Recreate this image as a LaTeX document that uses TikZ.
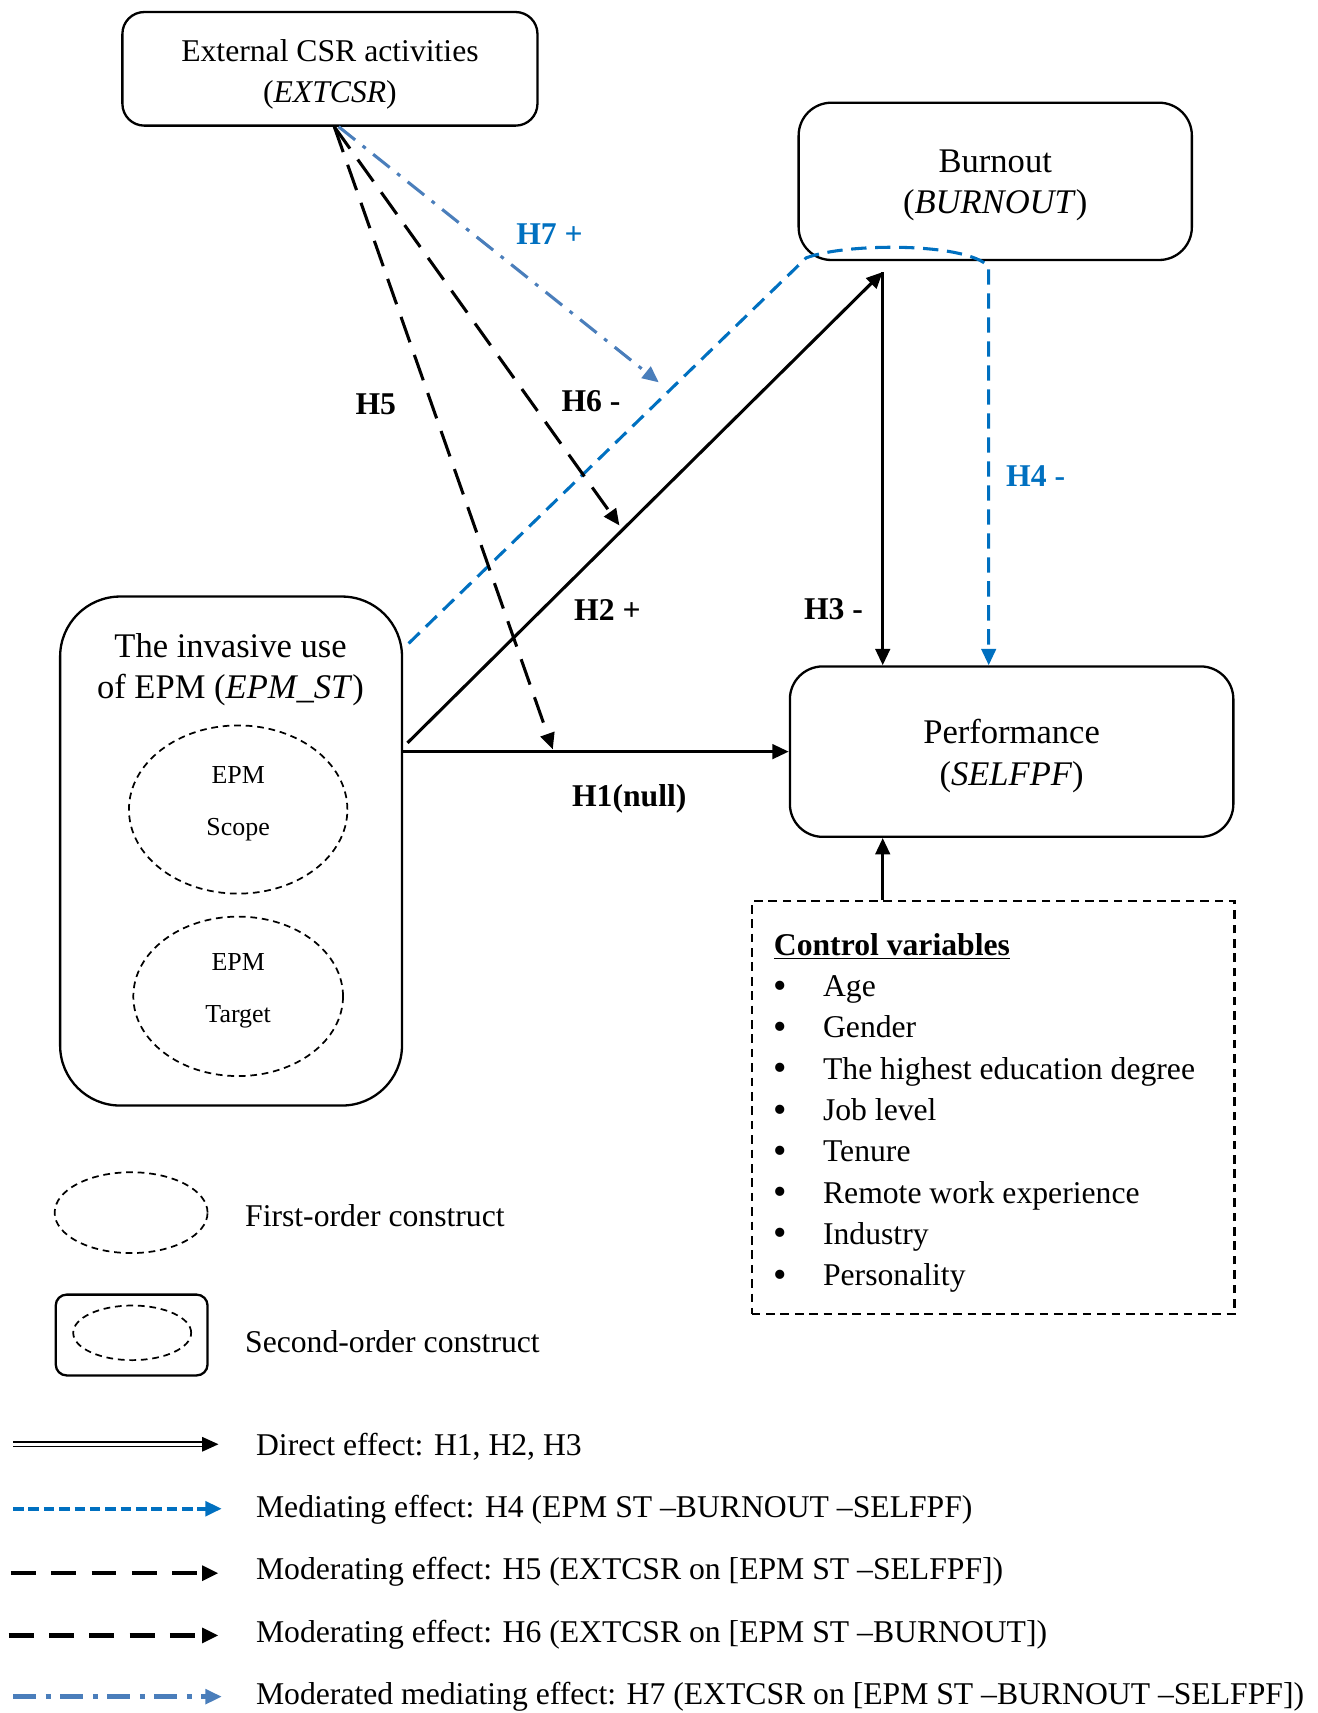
\documentclass[tikz,border=0pt]{standalone}
\usepackage{fontspec}
\setmainfont{Liberation Serif}
\usepackage{tikz}
\usetikzlibrary{shapes.geometric,arrows.meta}

\definecolor{hblue}{HTML}{0070C0}
\definecolor{lblue}{HTML}{4A7EBB}

\newcommand{\bigdot}{\smash{\raisebox{-0.8pt}{\fontsize{20}{0}\selectfont\textbullet}}}

\begin{document}
\begin{tikzpicture}[
    x=0.02cm, y=-0.02cm,
    ->,
    >={Triangle[length=8.5pt,width=7.5pt]},
    line width=1.6pt,
    font=\fontsize{16.5}{21.5}\selectfont
]

\tikzstyle{construct}=[
    rectangle,
    draw,
    rounded corners=0.6cm,
    line width=1.2pt,
    inner sep=0pt,
    align=center
]
\tikzstyle{dim}=[
    ellipse,
    draw,
    line width=0.9pt,
    dash pattern=on 3.5pt off 2.5pt,
    inner sep=0pt,
    align=center
]
\tikzstyle{big}=[font=\fontsize{18}{21.5}\selectfont]
\tikzstyle{small}=[font=\fontsize{13.5}{27}\selectfont]
\tikzstyle{hyp}=[font=\fontsize{16.5}{20}\selectfont\bfseries]
\tikzstyle{legtxt}=[anchor=west, inner xsep=0pt]
\tikzstyle{direct}=[->, line width=1.6pt]
\tikzstyle{mediate}=[->, hblue, line width=1.6pt, dash pattern=on 8pt off 4.5pt]
\tikzstyle{moderate}=[->, line width=1.6pt, dash pattern=on 14pt off 7pt]
\tikzstyle{modmed}=[->, lblue, line width=1.6pt, dash pattern=on 11pt off 5pt on 2pt off 5pt]

\useasboundingbox (0,0) rectangle (1206,1568);

% constructs
\node[construct, rounded corners=0.4cm, minimum width=7.6cm, minimum height=2.08cm,
    label={[align=center, yshift=-0.1cm]center:{External CSR activities\\(\textit{EXTCSR})}}]
    (ext) at (302,63) {};
\node[construct, minimum width=7.2cm, minimum height=2.88cm,
    label={[big, align=center, yshift=-0.08cm]center:{Burnout\\(\textit{BURNOUT})}}]
    (burn) at (911,166) {};
\node[construct, minimum width=8.12cm, minimum height=3.12cm,
    label={[big, align=center, yshift=-0.08cm]center:{Performance\\(\textit{SELFPF})}}]
    (perf) at (926,688) {};
\node[construct, rounded corners=1.1cm, minimum width=6.26cm, minimum height=9.32cm]
    (epm) at (211.5,779) {};
\node[big, align=center] (epmtxt) at (211,613) {The invasive use\\of EPM (\textit{EPM\_ST})};

\node[dim, minimum width=4cm, minimum height=3.08cm,
    label={[small, align=center, yshift=0.1cm]center:{EPM\\Scope}}] (scope) at (218,741) {};
\node[dim, minimum width=3.84cm, minimum height=2.92cm,
    label={[small, align=center, yshift=0.1cm]center:{EPM\\Target}}] (target) at (218,912) {};

\node[draw, line width=1.1pt, dash pattern=on 4.5pt off 3pt, minimum width=8.84cm, minimum height=7.56cm]
    (ctrl) at (909,1014) {};
\node[anchor=north west, inner sep=0pt, align=left] (ctrltxt) at (707,853) {%
    \textbf{\underline{Control variables}}\\
    \makebox[0.9cm][l]{\bigdot}Age\\
    \makebox[0.9cm][l]{\bigdot}Gender\\
    \makebox[0.9cm][l]{\bigdot}The highest education degree\\
    \makebox[0.9cm][l]{\bigdot}Job level\\
    \makebox[0.9cm][l]{\bigdot}Tenure\\
    \makebox[0.9cm][l]{\bigdot}Remote work experience\\
    \makebox[0.9cm][l]{\bigdot}Industry\\
    \makebox[0.9cm][l]{\bigdot}Personality};

% junction points
\coordinate (src) at (306,116);
\coordinate (src7) at (310,116);
\coordinate (h2s) at (373,680);
\coordinate (h4s) at (374,589);
\coordinate (h4c) at (738,236);
\coordinate (bo) at (808,249);
\coordinate (bm) at (905,244);
\coordinate (m5) at (506,686);
\coordinate (m6) at (567,481);
\coordinate (m7) at (603,350);

% effects
\draw[direct] (epm.east |- perf.west) -- (perf.west);
\draw[direct] (h2s) -- (bo);
\draw[direct] (bo) -- (bo |- perf.north);
\draw[mediate] (h4s) -- (h4c) .. controls (775,222) and (885,222) .. (bm) -- (bm |- perf.north);
\draw[moderate] (src) -- (m5);
\draw[moderate] (src) -- (m6);
\draw[modmed] (src7) -- (m7);
\draw[direct] (ctrl.north -| bo) -- (perf.south -| bo);

\node[hyp, hblue] (l7) at (503,214) {H7 +};
\node[hyp] (l6) at (541,367) {H6 -};
\node[hyp] (l5) at (344,370) {H5};
\node[hyp] (l2) at (556,558) {H2 +};
\node[hyp] (l3) at (763,558) {H3 -};
\node[hyp, hblue] (l4) at (948,436) {H4 -};
\node[hyp] (l1) at (576,731) {H1(null)};

% legend
\node[dim, minimum width=2.8cm, minimum height=1.48cm] (first) at (120,1110) {};
\node[legtxt] (firsttxt) at (223,1113) {First-order construct};
\node[construct, rounded corners=0.2cm, minimum width=2.78cm, minimum height=1.48cm] (second) at (120.5,1222) {};
\node[dim, minimum width=2.16cm, minimum height=1cm] (secondin) at (121,1220) {};
\node[legtxt] (secondtxt) at (223,1228) {Second-order construct};

\coordinate (d1) at (12,1322);   \coordinate (d2) at (200,1322);
\coordinate (e1) at (12,1381);   \coordinate (e2) at (203,1381);
\coordinate (f1) at (10,1440);   \coordinate (f2) at (200,1440);
\coordinate (g1) at (8,1497);    \coordinate (g2) at (200,1497);
\coordinate (k1) at (12,1553);   \coordinate (k2) at (203,1553);

\draw[->, double, line width=0.8pt, double distance=1.4pt] (d1) -- (d2);
\draw[->, hblue, line width=2pt, dash pattern=on 5.5pt off 2.5pt] (e1) -- (e2);
\draw[->, line width=2.4pt, dash pattern=on 13pt off 8pt] (f1) -- (f2);
\draw[->, line width=2.4pt, dash pattern=on 13pt off 8pt] (g1) -- (g2);
\draw[->, lblue, line width=2.4pt, dash pattern=on 12pt off 5pt on 2.5pt off 5pt] (k1) -- (k2);

\node[legtxt] (dtxt) at (233,1324) {Direct effect: H1, H2, H3};
\node[legtxt] (etxt) at (233,1382) {Mediating effect: H4 (EPM ST –BURNOUT –SELFPF)};
\node[legtxt] (ftxt) at (233,1439) {Moderating effect: H5 (EXTCSR on [EPM ST –SELFPF])};
\node[legtxt] (gtxt) at (233,1496) {Moderating effect: H6 (EXTCSR on [EPM ST –BURNOUT])};
\node[legtxt] (ktxt) at (233,1553) {Moderated mediating effect: H7 (EXTCSR on [EPM ST –BURNOUT –SELFPF])};

\end{tikzpicture}
\end{document}
